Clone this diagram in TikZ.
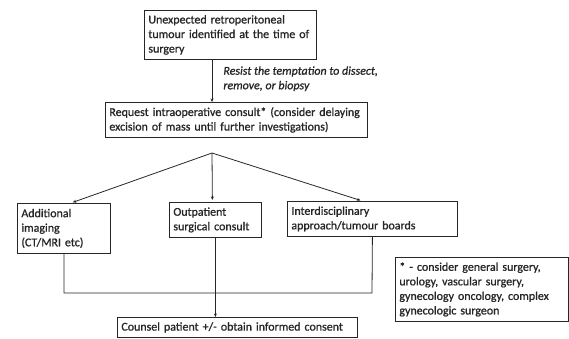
\documentclass[tikz,border=0pt]{standalone}
\usepackage{fontspec}
\setmainfont{Carlito}[FakeBold=1]
\usepackage{tikz}
\usetikzlibrary{arrows.meta}

\begin{document}
\begin{tikzpicture}[x=1bp, y=-1bp, line width=0.8bp, draw=black!85, >={Stealth[length=3.5bp,width=3bp]},
  box/.style={draw, anchor=north west, align=left, inner xsep=4bp, inner ysep=1bp, text=black!85, font=\fontsize{12}{14.6}\selectfont},
  hint/.style={anchor=north west, align=left, inner sep=0pt, text=black!85, font=\fontsize{12}{14.6}\selectfont\itshape}]
\useasboundingbox (0,0) rectangle (569,338);
\node[box, text width=164bp, minimum height=49bp] (top) at (144,10) {Unexpected retroperitoneal\\ tumour identified at the time of\\ surgery};
\node[box, text width=254bp, minimum height=35bp] (req) at (105,102) {Request intraoperative consult* (consider delaying\\ excision of mass until further investigations)};
\node[box, text width=85bp, minimum height=50bp] (img) at (17,203) {Additional\\ imaging\\ (CT/MRI etc)};
\node[box, text width=84bp, minimum height=35bp] (opd) at (169,202) {Outpatient\\ surgical consult};
\node[box, text width=162bp, minimum height=35bp] (mdt) at (287,201) {Interdisciplinary\\ approach/tumour boards};
\node[box, text width=232bp, minimum height=20bp] (cons) at (117,317) {Counsel patient +/- obtain informed consent};
\node[box, text width=165bp, minimum height=64bp] (note) at (395,257) {* - consider general surgery,\\ urology, vascular surgery,\\ gynecology oncology, complex\\ gynecologic surgeon};
\node[hint] (resist) at (223,66) {Resist the temptation to dissect,\\ remove, or biopsy};
\coordinate (fan) at (212,153);
\coordinate (join) at (372,293);
\draw[->] (top.south -| fan) -- (fan |- req.north);
\draw[->, shorten >=2bp] (fan) -- ([xshift=7bp]img.north);
\draw[->, shorten >=2bp] (fan) -- ([xshift=-3bp]opd.north);
\draw[->, shorten >=2bp] (fan) -- ([xshift=-10bp]mdt.north);
\draw (img.south) |- (join) -- (mdt.south);
\draw[->] (opd.south) -- (opd.south |- cons.north);
\end{tikzpicture}
\end{document}
